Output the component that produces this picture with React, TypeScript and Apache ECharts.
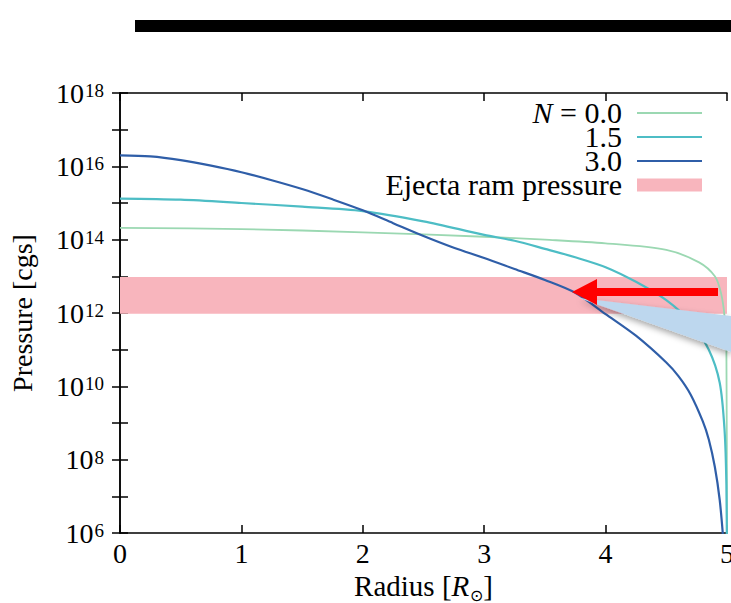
import React, { useEffect, useRef } from 'react';
import * as echarts from 'echarts';

// Radius in solar radii, pressure given as log10(P [cgs])
const radiusN0 = [0, 1.0, 2.0, 3.0, 3.5, 4.0, 4.5, 4.77, 4.9, 4.95, 4.98, 4.995, 5.0];
const logPN0 = [14.32, 14.29, 14.2, 14.08, 14.0, 13.9, 13.72, 13.38, 13.0, 12.55, 11.9, 11.0, 5.0];

const radiusN15 = [0, 0.5, 1.0, 1.5, 2.0, 2.5, 3.0, 3.25, 3.5, 3.75, 4.0, 4.25, 4.5, 4.7, 4.85, 4.94, 4.98, 4.995, 5.0];
const logPN15 = [15.12, 15.09, 15.0, 14.9, 14.78, 14.5, 14.13, 13.97, 13.75, 13.52, 13.25, 12.85, 12.35, 11.75, 11.0, 10.1, 8.8, 7.3, 5.0];

const radiusN30 = [0, 0.25, 0.5, 0.75, 1.0, 1.25, 1.5, 1.75, 2.0, 2.25, 2.5, 2.75, 3.0, 3.25, 3.5, 3.75, 4.0, 4.25, 4.5, 4.6, 4.7, 4.8, 4.85, 4.9, 4.94, 4.97];
const logPN30 = [16.3, 16.27, 16.17, 16.02, 15.84, 15.62, 15.38, 15.1, 14.8, 14.45, 14.1, 13.78, 13.5, 13.2, 12.9, 12.55, 11.97, 11.38, 10.65, 10.28, 9.78, 9.05, 8.55, 7.8, 6.9, 5.8];

// Ejecta ram pressure band (log10 P)
const bandLow = 11.98;
const bandHigh = 12.98;

const legendLabels = ['{i|N} = 0.0', '1.5', '3.0', 'Ejecta ram pressure'];
const seriesNames = ['N = 0.0', '1.5', '3.0', 'Ejecta ram pressure'];

const FONT = '"Liberation Serif", "Times New Roman", serif';
const COLORS = ['#9bd8b2', '#4dbdc5', '#2f5ea8', '#f8b5bd'];

const toPairs = (xs: number[], ys: number[]) => xs.map((x, i) => [x, ys[i]]);

export default function App() {
  const ref = useRef<HTMLDivElement>(null);
  useEffect(() => {
    if (!ref.current) return;
    const chart = echarts.init(ref.current, undefined, { renderer: 'svg' });

    const axisLine = { show: true, lineStyle: { color: '#000', width: 1.5 } };
    const axisTick = { show: true, inside: true, length: 8, lineStyle: { color: '#000', width: 1.5 } };

    const legendGraphics: any[] = [];
    const legendY = [112, 136, 160, 184];
    legendLabels.forEach((t, i) => {
      legendGraphics.push({
        type: 'text',
        z: 50,
        style: {
          text: t,
          x: 622,
          y: legendY[i],
          align: 'right',
          verticalAlign: 'middle',
          fontFamily: FONT,
          fontSize: 30,
          lineHeight: 22,
          fill: '#000',
          rich: { i: { fontStyle: 'italic', fontFamily: FONT, fontSize: 30, lineHeight: 22, fill: '#000' } },
        },
      });
      if (i < 3) {
        legendGraphics.push({
          type: 'line',
          z: 50,
          shape: { x1: 637, y1: legendY[i] + 1, x2: 702, y2: legendY[i] + 1 },
          style: { stroke: COLORS[i], lineWidth: i === 0 ? 1.8 : 2.2 },
        });
      } else {
        legendGraphics.push({
          type: 'rect',
          z: 50,
          shape: { x: 637, y: legendY[i] - 5.5, width: 65, height: 13 },
          style: { fill: COLORS[3] },
        });
      }
    });

    const option: any = {
      animation: false,
      backgroundColor: '#fff',
      grid: { left: 120, right: 4, top: 93, bottom: 70, containLabel: false, outerBoundsMode: 'none' },
      xAxis: [
        {
          type: 'value',
          min: 0,
          max: 5,
          interval: 1,
          position: 'bottom',
          axisLine,
          axisTick,
          splitLine: { show: false },
          axisLabel: { color: '#000', fontFamily: FONT, fontSize: 28, margin: 6 },
          name: 'Radius [{i|R}{sub|⊙}]',
          nameLocation: 'middle',
          nameGap: 36,
          nameTextStyle: {
            color: '#000',
            fontFamily: FONT,
            fontSize: 29,
            rich: {
              i: { fontStyle: 'italic', fontFamily: FONT, fontSize: 29, color: '#000' },
              sub: { fontFamily: FONT, fontSize: 16, color: '#000', verticalAlign: 'bottom', lineHeight: 16, padding: [0, 0, -3, 1] },
            },
          },
        },
        {
          type: 'value',
          min: 0,
          max: 5,
          interval: 1,
          position: 'top',
          axisLine,
          axisTick,
          splitLine: { show: false },
          axisLabel: { show: false },
        },
      ],
      yAxis: [
        {
          type: 'value',
          min: 6,
          max: 18,
          interval: 1,
          position: 'left',
          axisLine,
          axisTick,
          splitLine: { show: false },
          axisLabel: {
            margin: 16,
            formatter: (v: number) => (Math.round(v) % 2 === 0 ? `{b|10}{s|${Math.round(v)}}` : ''),
            rich: {
              b: { fontFamily: FONT, fontSize: 28, color: '#000', lineHeight: 28, padding: [8, 0, 8, 0] },
              s: { fontFamily: FONT, fontSize: 19, color: '#000', lineHeight: 19, verticalAlign: 'top', padding: [2, 0, 0, 1] },
            },
          },
          name: 'Pressure [cgs]',
          nameLocation: 'middle',
          nameGap: 84,
          nameTextStyle: { color: '#000', fontFamily: FONT, fontSize: 28 },
        },
        {
          type: 'value',
          min: 6,
          max: 18,
          interval: 1,
          position: 'right',
          axisLine,
          axisTick,
          splitLine: { show: false },
          axisLabel: { show: false },
        },
      ],
      series: [
        {
          name: seriesNames[3],
          type: 'line',
          data: [],
          silent: true,
          markArea: {
            silent: true,
            itemStyle: { color: COLORS[3], opacity: 1 },
            data: [[{ xAxis: 0, yAxis: bandLow }, { xAxis: 5, yAxis: bandHigh }]],
          },
        },
        {
          name: seriesNames[0],
          type: 'line',
          data: toPairs(radiusN0, logPN0),
          showSymbol: false,
          smooth: 0.3,
          lineStyle: { color: COLORS[0], width: 1.8 },
          z: 3,
        },
        {
          name: seriesNames[1],
          type: 'line',
          data: toPairs(radiusN15, logPN15),
          showSymbol: false,
          smooth: 0.3,
          lineStyle: { color: COLORS[1], width: 2.2 },
          z: 3,
        },
        {
          name: seriesNames[2],
          type: 'line',
          data: toPairs(radiusN30, logPN30),
          showSymbol: false,
          smooth: 0.3,
          lineStyle: { color: COLORS[2], width: 2.2 },
          z: 3,
        },
      ],
      graphic: [
        {
          type: 'rect',
          shape: { x: 135, y: 20, width: 596, height: 12 },
          style: { fill: '#000' },
        },
        {
          type: 'polygon',
          z: 100,
          shape: { points: [[579, 298], [731, 316], [731, 352]] },
          style: { fill: '#bdd7ee', shadowBlur: 6, shadowColor: 'rgba(0,0,0,0.35)', shadowOffsetY: 3 },
        },
        {
          type: 'polygon',
          z: 101,
          shape: { points: [[572, 292], [597, 279], [597, 288], [718, 288], [718, 296], [597, 296], [597, 305]] },
          style: { fill: '#ff0000' },
        },
        ...legendGraphics,
      ],
    };

    chart.setOption(option);
    return () => chart.dispose();
  }, []);

  return <div ref={ref} style={{ position: 'fixed', left: 0, top: 0, width: 731, height: 603 }} />;
}
